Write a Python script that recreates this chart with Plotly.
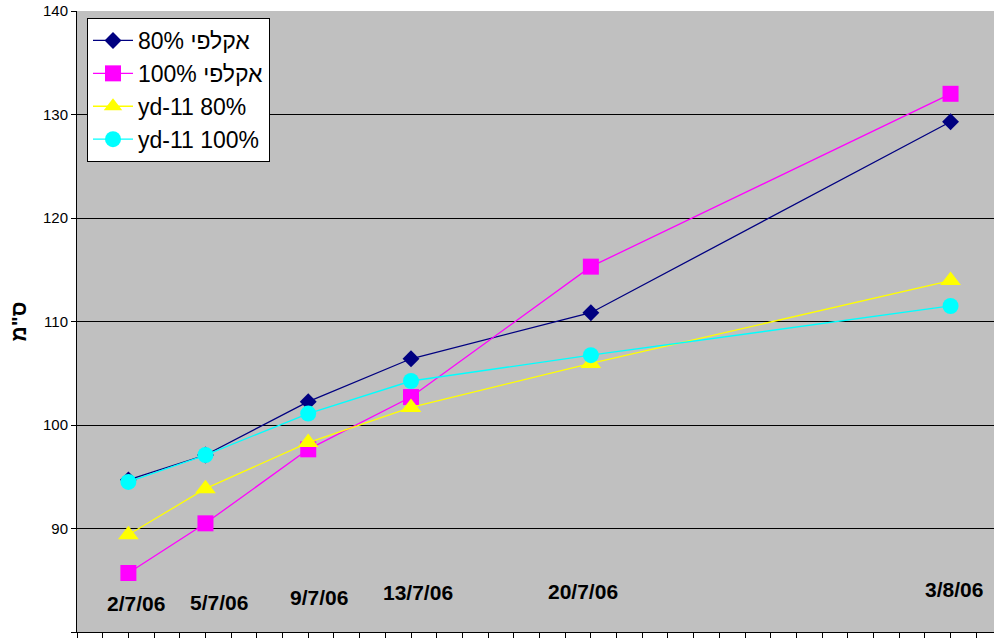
import plotly.graph_objects as go

# Measurement dates (day/month/2006)
dates = ["2006-07-02", "2006-07-05", "2006-07-09", "2006-07-13", "2006-07-20", "2006-08-03"]
date_labels = ["2/7/06", "5/7/06", "9/7/06", "13/7/06", "20/7/06", "3/8/06"]

# Plant height (cm) per treatment
ekalipi_80 = [94.7, 97.1, 102.25, 106.4, 110.85, 129.3]
ekalipi_100 = [85.7, 90.5, 97.65, 102.7, 115.3, 132.0]
yd11_80 = [89.4, 93.85, 98.3, 101.7, 105.95, 113.95]
yd11_100 = [94.5, 97.1, 101.1, 104.25, 106.75, 111.5]

series_names = ["80% אקלפי", "100% אקלפי", "yd-11 80%", "yd-11 100%"]

styles = [
    dict(color="#000080", symbol="diamond", size=13),
    dict(color="#FF00FF", symbol="square", size=16),
    dict(color="#FFFF00", symbol="triangle-up", size=18),
    dict(color="#00FFFF", symbol="circle", size=16),
]

FONT = "Arial, Liberation Sans"

fig = go.Figure()
for i, (name, vals, st) in enumerate(zip(series_names,
                                          [ekalipi_80, ekalipi_100, yd11_80, yd11_100],
                                          styles)):
    fig.add_trace(go.Scatter(
        x=dates, y=vals, name=name, mode="lines+markers",
        line=dict(color=st["color"], width=1.3),
        marker=dict(color=st["color"], symbol=st["symbol"], size=st["size"],
                    line=dict(width=0)),
        legendgroup=f"g{i}",
    ))

# Date captions drawn inside the plot area near the bottom
label_y = [82.8, 82.83, 83.3, 83.77, 83.96, 84.15]
label_dx = [8, 14, 11, 7, -8, 3]
for d, txt, yv, dx in zip(dates, date_labels, label_y, label_dx):
    fig.add_annotation(x=d, y=yv, text=f"<b>{txt}</b>", showarrow=False,
                       xshift=dx, font=dict(family=FONT, size=21, color="black"))

# Y axis title
fig.add_annotation(xref="paper", yref="paper", x=-59 / 917, y=0.5,
                   xanchor="center", yanchor="middle",
                   text="<b>ס\"מ</b>", textangle=-90, showarrow=False,
                   font=dict(family=FONT, size=21, color="black"))

fig.update_layout(
    width=994, height=638,
    margin=dict(l=77, r=0, t=11, b=6),
    paper_bgcolor="white",
    plot_bgcolor="#C0C0C0",
    font=dict(family=FONT, color="black"),
    showlegend=True,
    legend=dict(
        x=10 / 917, y=(632 - 18) / 621, xanchor="left", yanchor="top",
        bgcolor="white", bordercolor="black", borderwidth=1,
        font=dict(size=23, family=FONT, color="black"),
        traceorder="grouped", tracegroupgap=0, itemwidth=40,
    ),
    xaxis=dict(
        type="date",
        range=["2006-06-30", "2006-08-04 16:35"],
        tickmode="linear", tick0="2006-06-30", dtick=86400000,
        ticks="outside", ticklen=5, tickcolor="black",
        showticklabels=False, showgrid=False, zeroline=False,
        showline=True, linecolor="black", linewidth=1,
    ),
    yaxis=dict(
        range=[80, 140], dtick=10, tick0=80,
        ticks="outside", ticklen=5, tickcolor="black",
        showgrid=True, gridcolor="black", gridwidth=1,
        showline=True, linecolor="black", linewidth=1,
        zeroline=False,
        tickfont=dict(size=15, family=FONT, color="black"),
    ),
)

fig.write_html("out.html")
